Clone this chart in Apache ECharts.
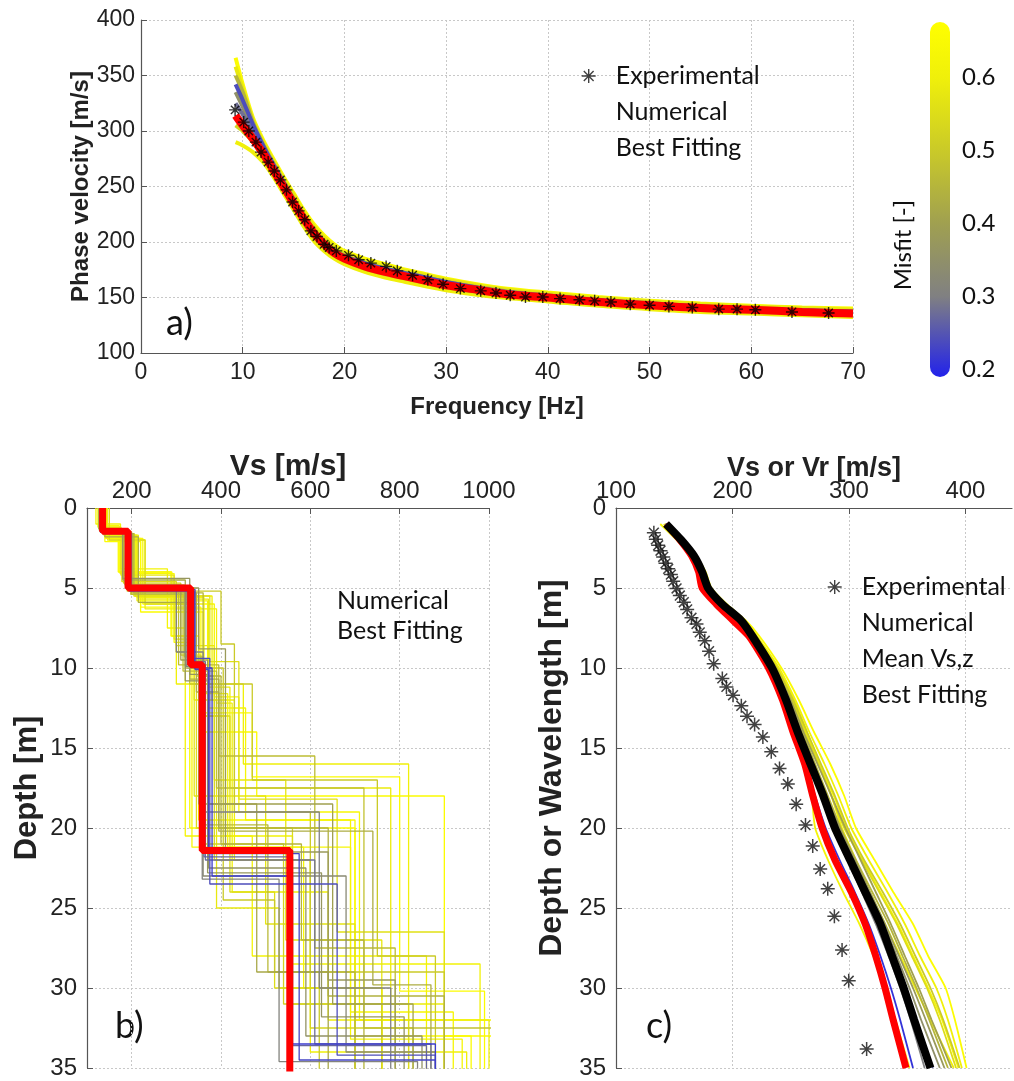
<!DOCTYPE html>
<html><head><meta charset="utf-8">
<script src="https://cdn.jsdelivr.net/npm/echarts@6/dist/echarts.min.js"></script>
<style>html,body{margin:0;padding:0;background:#fff}#c{width:1014px;height:1081px}</style>
</head><body><div id="c"></div>
<script>
// ---------- Panel a : dispersion curve ----------
const freqA = [9.3, 10, 11, 12, 13, 14, 15, 16, 17, 18, 19, 20, 22, 24, 26, 28, 30, 33, 36, 40, 45, 50, 55, 60, 65, 70];
const bestVelA = [314, 305, 293, 280, 265, 250, 235, 221, 208, 198, 190, 185, 178, 173, 169, 165, 161, 157, 153, 150, 146, 143, 140.5, 139, 137, 135.5];
const numVelA = [
  [366, 342, 312, 292, 275, 259, 244, 229, 216, 206, 198, 192, 185, 180, 175, 171, 167, 162, 158, 154.5, 150.5, 147, 144.5, 142.5, 141, 140],
  [290, 287, 281, 272, 259, 244, 229, 214, 201, 192, 185, 180, 173, 168, 164, 160, 156.5, 152.5, 149.5, 146.5, 142.5, 139.5, 137, 135.5, 134, 132.5],
  [350, 335, 308, 288, 271, 255, 239, 224, 211, 201, 193, 188, 181, 176, 172, 168, 164, 159.5, 155.5, 152, 148, 145, 142, 140, 138.5, 137],
  [335, 322, 303, 285, 269, 253, 237, 222, 209, 199, 191, 186, 180, 175, 171, 167, 163, 158.5, 154.5, 151, 147, 144, 141.5, 139.5, 138, 136.5],
  [325, 315, 299, 283, 267, 251, 236, 221, 208, 198, 191, 186, 179, 174, 170, 166, 162, 158, 154, 150.5, 146.5, 143.5, 141, 139.5, 137.5, 136],
  [305, 300, 290, 277, 262, 247, 232, 217, 204, 195, 188, 183, 176, 171, 167, 163, 159, 155, 151.5, 148, 144.5, 141.5, 139, 137, 135.5, 134],
  [358, 338, 310, 290, 273, 257, 242, 227, 214, 204, 196, 190, 183, 178, 174, 170, 166, 161, 157, 153.5, 149.5, 146.5, 144, 142, 140.5, 139],
  [342, 328, 306, 287, 270, 254, 238, 223, 210, 200, 192, 187, 181, 176, 172, 168, 164, 159, 155, 151.5, 147.5, 144.5, 142, 140, 138.5, 137.5]
];
const numMisfitA = [0.66, 0.6, 0.45, 0.35, 0.28, 0.52, 0.58, 0.24];
const expFreqA = [9.25, 10.1, 10.6, 11.3, 11.8, 12.5, 13.1, 13.7, 14.3, 14.9, 15.5, 16.1, 16.7, 17.3, 18.0, 18.5, 19.2, 20.4, 21.4, 22.6, 24.1, 25.2, 26.7, 28.2, 29.7, 31.4, 33.4, 34.9, 36.3, 37.8, 39.5, 41.2, 43.1, 44.6, 46.2, 48.1, 50, 51.9, 54.2, 56.8, 58.6, 60.4, 64, 67.6];
const expVelA = [319, 308, 300, 290, 281, 272, 264, 256, 247, 236, 228, 220, 210, 205, 198, 195, 192, 188, 184, 181, 178, 174, 170, 166, 162, 158, 156, 154, 152, 150.5, 150.5, 149, 148, 147, 146, 144, 143, 142, 141, 139.5, 139.5, 139, 137, 136];

// ---------- Panel b : Vs profiles ----------
const bestVsB = [135, 192, 332, 358, 554];
const bestZB = [1.45, 5, 9.8, 21.4];
const profVsB = [
  [130,195,340,380,560,880],[135,200,300,360,620,780],[125,170,290,330,700,900],[140,210,380,430,600,950],
  [130,190,330,470,750,880],[150,230,350,420,520,700],[128,185,310,370,650,830],[120,175,280,320,470,860],
  [135,200,360,400,580,720],[132,195,325,360,680,880],[145,215,300,450,820,1000],[130,190,400,430,600,900],
  [138,205,340,390,530,760],[128,180,320,350,480,640],[140,220,360,480,900,960],[133,195,330,365,610,870],
  [126,178,300,345,560,820],[142,212,370,455,690,920],[136,198,315,390,720,1010],[131,188,350,410,640,790],
  [128,182,310,355,540,760],[137,205,345,395,640,900],[131,192,320,372,590,850],[144,225,385,440,710,1040],
  [127,176,295,340,500,700],[134,198,335,375,660,880],[139,208,350,410,560,980],[129,186,305,395,610,790],
  [141,215,372,420,780,900],[133,194,328,362,560,860],[126,172,288,350,700,1050],[136,202,340,405,520,620],
  [132,200,345,385,600,830],[129,187,318,360,505,700],[138,212,362,415,690,940],[134,196,300,385,545,760],
  [127,180,330,370,625,810],[143,220,355,470,800,990],[131,190,342,372,575,880],[136,205,375,440,660,900],
  [125,174,295,335,585,760],[140,215,330,395,740,870],[133,193,322,358,530,840],[146,230,390,425,640,820]
];
const profZB = [
  [1.5,5.2,10,23,33.5],[1.6,5,9,19,30],[1.2,4,8,20,32],[1.8,5.5,12,22,34],
  [1.5,5,11,17,28],[2,6,13,24,30],[1.4,4.8,9.5,18.5,31],[1,3.8,7.5,20.5,28],
  [1.6,5.3,10.5,21,27],[1.5,5,9.8,23,34],[1.7,5.6,11,16,32],[1.5,5.2,8.5,19,29],
  [1.6,5,12,25,30],[1.3,4.5,10,18.5,29],[2.1,6.5,14,18,33],[1.5,5.1,9.6,22,33.5],
  [1.3,4.6,9,20,31],[1.9,5.8,12.5,19.5,31.5],[1.6,5.4,10.2,17.5,32.5],[1.5,5,8.8,21.5,29.5],
  [1.4,4.7,9.2,21,31],[1.6,5.3,11.5,20,30.5],[1.5,5,10.8,22.5,33],[1.9,6,11.8,19,32],
  [1.2,4.2,8.2,18,26],[1.5,5,9.4,23.5,34.2],[1.7,5.5,13,20.5,28.5],[1.4,4.9,9.8,15.5,27.5],
  [1.8,5.7,11.2,17.5,31],[1.5,5.1,9.7,21.8,33.6],[1.1,4,8,19.5,33],[1.6,5.2,10,24.5,29],
  [1.5,5.4,10.5,22,32.5],[1.4,4.8,9.3,19.8,29],[1.7,5.6,11.6,21.2,33.2],[1.5,5,8.6,17,27],
  [1.3,4.4,10.4,22.8,31.8],[1.9,6.2,12.8,16.8,30.2],[1.5,5.1,10.1,21.6,34.5],[1.6,5.5,9.6,18.2,26.5],
  [1.2,4.1,8.4,21.2,30],[1.8,5.9,10.7,20.2,29.8],[1.5,4.95,9.9,23.2,34.6],[2,6.3,12.2,24,32]
];
const profMisfitB = [0.22,0.3,0.65,0.6,0.5,0.55,0.4,0.62,0.45,0.33,0.6,0.5,0.58,0.42,0.66,0.28,0.55,0.63,0.48,0.38,
  0.52,0.44,0.36,0.64,0.57,0.24,0.61,0.47,0.59,0.27,0.65,0.5,
  0.53,0.46,0.63,0.58,0.37,0.66,0.23,0.56,0.64,0.43,0.31,0.6];

// ---------- Panel c : Vs,z / Vr vs depth or wavelength ----------
const depthC = [1, 2, 3, 4, 5, 6, 7, 8, 10, 12, 14, 16, 18, 20, 22, 24, 26, 28, 30, 32, 35];
const meanVsC = [143,156,167,174,179,191,207,217,234,246,256,267,278,288,301,314,327,337,347,356,370];
const bestVrC = [143,155,165,171,174,186,200,214,231,243,252,262,269,277,288,302,314,323,331,338,349];
const numVrC = [
  [143,157,169,177,182,195,211,223,242,257,270,284,296,306,322,338,355,368,383,391,401],
  [142,156,168,176,181,194,210,221,240,254,266,279,291,302,317,333,348,361,375,385,397],
  [143,156,167,175,180,193,209,220,238,251,262,274,285,296,311,326,341,354,367,378,392],
  [143,156,167,175,180,192,208,219,237,249,260,271,282,293,306,320,334,346,358,369,385],
  [143,156,167,174,179,191,207,218,236,248,258,269,280,291,303,317,330,341,352,362,378],
  [143,156,167,174,178,190,206,217,235,247,257,268,279,289,301,314,327,338,348,358,372],
  [143,156,166,173,176,189,204,215,232,244,253,263,271,280,292,305,317,327,336,344,355],
  [143,157,168,175,180,192,208,219,238,252,264,276,288,299,313,329,344,357,370,381,395],
  [138,152,164,173,179,191,207,217,233,245,254,262,268,271,282,295,309,321,331,340,352],
  [143,156,167,175,180,192,208,218,236,250,261,273,285,297,310,323,336,348,360,371,388],
  [141,154,166,174,180,193,209,220,239,253,264,275,285,294,306,318,331,344,357,370,390],
  [143,156,167,174,179,191,207,217,235,247,257,268,278,288,299,311,323,334,344,353,365],
  [143,156,168,176,181,193,209,220,239,252,263,275,287,298,312,327,342,355,368,380,394],
  [142,155,166,174,179,191,207,218,236,249,259,270,281,292,305,318,331,343,355,366,382]
];
const numMisfitC = [0.66, 0.6, 0.55, 0.45, 0.35, 0.26, 0.21, 0.5, 0.62, 0.4, 0.6, 0.3, 0.64, 0.38];
const expVrC = [132.5,134.2,136.2,138.2,140.5,142.5,144.8,147.1,149.1,152.0,154.8,158.2,161.1,164.8,169.1,171.9,176.2,179.9,183.9,191.3,194.8,200.5,207.6,212.5,219.0,226.1,233.3,240.4,247.5,254.7,262.7,268.9,275.3,281.8,287.5,294.1,299.8,315.2];
const expLambdaC = [1.54,1.96,2.33,2.67,3.06,3.46,3.80,4.16,4.58,5.03,5.47,5.89,6.34,6.86,7.25,7.77,8.30,8.95,9.74,10.65,11.18,11.70,12.36,13.01,13.53,14.32,15.24,16.28,17.25,18.51,19.82,21.13,22.57,23.80,25.52,27.62,29.55,33.82];

// ---------- Colour bar ----------
const misfitMin = 0.19, misfitMax = 0.675;
const misfitTicks = [0.2, 0.3, 0.4, 0.5, 0.6];

// ---------- helpers (styling) ----------
const stops = [[0.19,[34,34,235]],[0.3,[128,128,130]],[0.4,[160,160,80]],[0.5,[202,202,40]],[0.6,[240,240,10]],[0.675,[255,255,0]]];
function misfitColor(m){
  for (let i=0;i<stops.length-1;i++){
    const a=stops[i], b=stops[i+1];
    if (m<=b[0] || i===stops.length-2){
      const t=Math.max(0,Math.min(1,(m-a[0])/(b[0]-a[0])));
      const c=a[1].map((v,k)=>Math.round(v+(b[1][k]-v)*t));
      return 'rgb('+c.join(',')+')';
    }
  }
}
function stepData(vs, z, zmax){
  const pts=[]; let top=0;
  for(let i=0;i<vs.length;i++){ const bot = i<z.length ? z[i] : zmax; pts.push([vs[i],top],[vs[i],bot]); top=bot; }
  return pts;
}
const zip = (a,b)=>a.map((v,i)=>[v,b[i]]);
const ASTER = 'path://M5 0L5 10M0 5L10 5M1.5 1.5L8.5 8.5M1.5 8.5L8.5 1.5';
const FT = 'Liberation Sans';
const gridLine = {show:true, lineStyle:{color:'#c8c8c8', type:[2,2], width:1}};
const axLine = {onZero:false, lineStyle:{color:'#555', width:1.2}};
const tick = {inside:true, length:6, lineStyle:{color:'#555'}};
const titleStyle = (s)=>({fontFamily:FT, fontWeight:'bold', fontSize:s, color:'#222'});

const series = [];
// panel a numerical (worst first)
numVelA.map((v,i)=>i).sort((a,b)=>numMisfitA[b]-numMisfitA[a]).forEach(i=>{
  series.push({name:'Numerical', type:'line', xAxisIndex:0, yAxisIndex:0, data:zip(freqA,numVelA[i]), showSymbol:false, symbol:'none', smooth:0.3,
    lineStyle:{color:misfitColor(numMisfitA[i]), width:4}, itemStyle:{color:misfitColor(numMisfitA[i])}, z:2, silent:true});
});
series.push({name:'Best Fitting', type:'line', xAxisIndex:0, yAxisIndex:0, data:zip(freqA,bestVelA), showSymbol:false, symbol:'none', smooth:0.3,
  lineStyle:{color:'#ff0000', width:8}, itemStyle:{color:'#ff0000'}, z:3, silent:true});
series.push({name:'Experimental', type:'scatter', xAxisIndex:0, yAxisIndex:0, data:zip(expFreqA,expVelA), symbol:ASTER, symbolSize:12,
  itemStyle:{color:'rgba(0,0,0,0)', borderColor:'#000', borderWidth:1.4}, z:4, silent:true});

// panel b
profVsB.map((v,i)=>i).sort((a,b)=>profMisfitB[b]-profMisfitB[a]).forEach(i=>{
  series.push({name:'Numerical', type:'line', xAxisIndex:1, yAxisIndex:1, data:stepData(profVsB[i],profZB[i],36), showSymbol:false, symbol:'none',
    lineStyle:{color:misfitColor(profMisfitB[i]), width:1.3}, itemStyle:{color:misfitColor(profMisfitB[i])}, z:2, silent:true});
});
series.push({name:'Best Fitting', type:'line', xAxisIndex:1, yAxisIndex:1, data:stepData(bestVsB,bestZB,36), showSymbol:false, symbol:'none',
  lineStyle:{color:'#ff0000', width:7}, itemStyle:{color:'#ff0000'}, z:3, silent:true});

// panel c
numVrC.map((v,i)=>i).sort((a,b)=>numMisfitC[b]-numMisfitC[a]).forEach(i=>{
  series.push({name:'Numerical', type:'line', xAxisIndex:2, yAxisIndex:2, data:zip(numVrC[i],depthC), showSymbol:false, symbol:'none', smooth:0.2,
    lineStyle:{color:misfitColor(numMisfitC[i]), width:1.8}, itemStyle:{color:misfitColor(numMisfitC[i])}, z:2, silent:true});
});
series.push({name:'Best Fitting', type:'line', xAxisIndex:2, yAxisIndex:2, data:zip(bestVrC,depthC), showSymbol:false, symbol:'none', smooth:0.2,
  lineStyle:{color:'#ff0000', width:7}, itemStyle:{color:'#ff0000'}, z:3, silent:true});
series.push({name:'Mean Vs,z', type:'line', xAxisIndex:2, yAxisIndex:2, data:zip(meanVsC,depthC), showSymbol:false, symbol:'none', smooth:0.2,
  lineStyle:{color:'#000', width:8}, itemStyle:{color:'#000'}, z:4, silent:true});
series.push({name:'Experimental', type:'scatter', xAxisIndex:2, yAxisIndex:2, data:zip(expVrC,expLambdaC), symbol:ASTER, symbolSize:14,
  itemStyle:{color:'rgba(0,0,0,0)', borderColor:'#111', borderWidth:1.5}, z:5, silent:true});
// colour bar grid placeholder
series.push({type:'scatter', xAxisIndex:3, yAxisIndex:3, data:[], silent:true});

const legText = {fontFamily:'Lato', fontSize:25, color:'#111', lineHeight:26, padding:[0,0,0,15]};
const legIcon = {color:'rgba(0,0,0,0)', borderColor:'#111', borderWidth:1.4};

const option = {
  animation:false,
  backgroundColor:'#fff',
  grid:[
    {left:141, right:161, top:20, height:333},
    {left:87, right:525, top:508, bottom:13},
    {left:616, right:2, top:508, bottom:13},
    {left:930, width:20, top:22, height:355}
  ],
  xAxis:[
    {gridIndex:0, type:'value', min:0, max:70, interval:10, position:'bottom', name:'Frequency [Hz]', nameLocation:'middle', nameGap:42,
      nameTextStyle:titleStyle(24), axisLine:axLine, axisTick:tick,
      axisLabel:{fontFamily:FT, fontSize:23, color:'#222', margin:8}, splitLine:gridLine},
    {gridIndex:1, type:'value', min:100, max:1000, position:'top', name:'Vs [m/s]', nameLocation:'middle', nameGap:26, nameMoveOverlap:false,
      nameTextStyle:titleStyle(30), axisLine:axLine, axisTick:Object.assign({customValues:[200,400,600,800,1000]}, tick),
      axisLabel:{customValues:[200,400,600,800,1000], formatter:(v)=>String(v), fontFamily:FT, fontSize:24, color:'#222', margin:5}, splitLine:gridLine},
    {gridIndex:2, type:'value', min:100, max:440, position:'top', name:'Vs or Vr [m/s]', nameLocation:'middle', nameGap:26, nameMoveOverlap:false,
      nameTextStyle:titleStyle(27), axisLine:axLine, axisTick:Object.assign({customValues:[100,200,300,400]}, tick),
      axisLabel:{customValues:[100,200,300,400], formatter:(v)=>String(v), fontFamily:FT, fontSize:24, color:'#222', margin:5}, splitLine:gridLine},
    {gridIndex:3, type:'value', show:false, min:0, max:1}
  ],
  yAxis:[
    {gridIndex:0, type:'value', min:100, max:400, interval:50, name:'Phase velocity [m/s]', nameLocation:'middle', nameGap:48, nameMoveOverlap:false,
      nameTextStyle:titleStyle(24), axisLine:axLine, axisTick:tick,
      axisLabel:{fontFamily:FT, fontSize:23, color:'#222', margin:6}, splitLine:gridLine},
    {gridIndex:1, type:'value', min:0, max:35, interval:5, inverse:true, name:'Depth [m]', nameLocation:'middle', nameGap:44,
      nameTextStyle:titleStyle(31), axisLine:axLine, axisTick:tick,
      axisLabel:{fontFamily:FT, fontSize:24, color:'#222', margin:10}, splitLine:gridLine},
    {gridIndex:2, type:'value', min:0, max:35, interval:5, inverse:true, name:'Depth or Wavelength [m]', nameLocation:'middle', nameGap:48,
      nameTextStyle:Object.assign(titleStyle(32), {padding:[0,0,0,40]}), axisLine:axLine, axisTick:tick,
      axisLabel:{fontFamily:FT, fontSize:24, color:'#222', margin:10}, splitLine:gridLine},
    {gridIndex:3, type:'value', min:misfitMin, max:misfitMax, position:'right', axisLine:{show:false}, axisTick:{show:false}, splitLine:{show:false},
      axisLabel:{customValues:misfitTicks, formatter:(v)=>v.toFixed(1), fontFamily:'Lato', fontSize:24, color:'#111', margin:12}}
  ],
  legend:[
    {left:576, top:58, orient:'vertical', itemGap:10, itemWidth:14, itemHeight:14, selectedMode:false, textStyle:legText,
      data:[{name:'Experimental', icon:ASTER, itemStyle:legIcon},{name:'Numerical', icon:'none'},{name:'Best Fitting', icon:'none'}]},
    {left:298, top:583, orient:'vertical', itemGap:4, itemWidth:14, itemHeight:14, selectedMode:false, textStyle:legText,
      data:[{name:'Numerical', icon:'none'},{name:'Best Fitting', icon:'none'}]},
    {left:822, top:569, orient:'vertical', itemGap:10, itemWidth:14, itemHeight:14, selectedMode:false, textStyle:legText,
      data:[{name:'Experimental', icon:ASTER, itemStyle:legIcon},{name:'Numerical', icon:'none'},{name:'Mean Vs,z', icon:'none'},{name:'Best Fitting', icon:'none'}]}
  ],
  graphic:[
    {type:'rect', left:930, top:22, z:1, shape:{width:20, height:355, r:10},
      style:{fill:new echarts.graphic.LinearGradient(0,0,0,1,
        stops.slice().reverse().map(s=>({offset:(misfitMax-s[0])/(misfitMax-misfitMin), color:'rgb('+s[1].join(',')+')'})))}},
    {type:'text', left:891, top:200, rotation:Math.PI/2, origin:[0,0], style:{text:'Misfit [-]', font:'24px Lato', fill:'#111', align:'center', verticalAlign:'middle'}},
    {type:'text', left:166, top:305, style:{text:'a)', font:'36px Lato', fill:'#111'}},
    {type:'text', left:115, top:1008, style:{text:'b)', font:'36px Lato', fill:'#111'}},
    {type:'text', left:646, top:1008, style:{text:'c)', font:'36px Lato', fill:'#111'}}
  ],
  series:series
};
const chart = echarts.init(document.getElementById('c'), null, {renderer:'canvas'});
chart.setOption(option);
</script></body></html>
